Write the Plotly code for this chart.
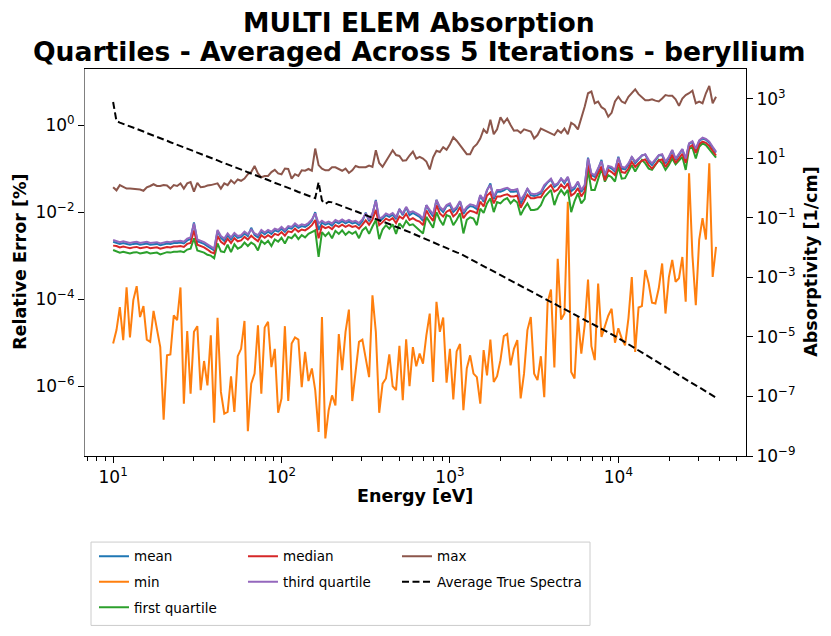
import plotly.graph_objects as go

# ---------------- data ----------------
energy_ev = [
    10.00, 10.47, 10.96, 11.48, 12.02, 12.59, 13.18, 13.80, 14.45, 15.14,
    15.85, 16.60, 17.38, 18.20, 19.05, 19.95, 20.89, 21.88, 22.91, 23.99,
    25.12, 26.30, 27.54, 28.84, 30.20, 31.62, 33.11, 34.67, 36.31, 38.02,
    39.81, 41.69, 43.65, 45.71, 47.86, 50.12, 52.48, 54.95, 57.54, 60.26,
    63.10, 66.07, 69.18, 72.44, 75.86, 79.43, 83.18, 87.10, 91.20, 95.50,
    100.0, 104.7, 109.6, 114.8, 120.2, 125.9, 131.8, 138.0, 144.5, 151.4,
    158.5, 166.0, 173.8, 182.0, 190.5, 199.5, 208.9, 218.8, 229.1, 239.9,
    251.2, 263.0, 275.4, 288.4, 302.0, 316.2, 331.1, 346.7, 363.1, 380.2,
    398.1, 416.9, 436.5, 457.1, 478.6, 501.2, 524.8, 549.5, 575.4, 602.6,
    631.0, 660.7, 691.8, 724.4, 758.6, 794.3, 831.8, 871.0, 912.0, 955.0,
    1000, 1047, 1096, 1148, 1202, 1259, 1318, 1380, 1445, 1514,
    1585, 1660, 1738, 1820, 1905, 1995, 2089, 2188, 2291, 2399,
    2512, 2630, 2754, 2884, 3020, 3162, 3311, 3467, 3631, 3802,
    3981, 4169, 4365, 4571, 4786, 5012, 5248, 5495, 5754, 6026,
    6310, 6607, 6918, 7244, 7586, 7943, 8318, 8710, 9120, 9550,
    10000, 10470, 10960, 11480, 12020, 12590, 13180, 13800, 14450, 15140,
    15850, 16600, 17380, 18200, 19050, 19950, 20890, 21880, 22910, 23990,
    25120, 26300, 27540, 28840, 30200, 31620, 33110, 34670, 36310, 38020,
]

# relative errors [%], given as log10 of the value read on the log axis
log10_mean = [
    -2.68, -2.70, -2.73, -2.71, -2.73, -2.75, -2.73, -2.72, -2.75, -2.73,
    -2.72, -2.75, -2.74, -2.73, -2.76, -2.74, -2.72, -2.73, -2.71, -2.71,
    -2.70, -2.72, -2.65, -2.62, -2.24, -2.67, -2.70, -2.73, -2.78, -2.84,
    -2.88, -2.43, -2.59, -2.66, -2.53, -2.63, -2.52, -2.59, -2.57, -2.49,
    -2.55, -2.36, -2.53, -2.58, -2.45, -2.51, -2.45, -2.50, -2.42, -2.45,
    -2.38, -2.45, -2.36, -2.38, -2.30, -2.36, -2.32, -2.34, -2.29, -2.20,
    -2.00, -2.41, -2.24, -2.29, -2.26, -2.31, -2.22, -2.26, -2.21, -2.26,
    -2.22, -2.26, -2.24, -2.30, -2.21, -2.01, -2.21, -2.05, -1.72, -2.20,
    -2.15, -2.07, -2.11, -2.06, -2.16, -1.93, -2.07, -1.89, -2.07, -2.02,
    -2.07, -2.11, -2.20, -1.84, -1.99, -2.10, -1.72, -1.92, -2.00, -1.86,
    -1.84, -2.00, -1.92, -1.75, -2.04, -1.92, -1.86, -1.88, -1.93, -1.62,
    -1.76, -1.50, -1.34, -1.70, -1.53, -1.53, -1.50, -1.45, -1.53, -1.53,
    -1.51, -1.82, -1.65, -1.46, -1.61, -1.63, -1.61, -1.57, -1.42, -1.32,
    -1.25, -1.42, -1.36, -1.23, -1.34, -1.20, -1.52, -1.46, -1.31, -1.54,
    -1.42, -0.75, -1.15, -1.19, -1.02, -0.80, -1.19, -0.96, -1.00, -1.07,
    -0.73, -1.00, -1.02, -0.92, -0.73, -0.88, -0.79, -0.70, -0.68, -0.84,
    -0.92, -0.80, -0.70, -0.69, -0.88, -0.76, -0.58, -0.80, -0.68, -0.56,
    -0.80, -0.43, -0.39, -0.57, -0.37, -0.31, -0.34, -0.41, -0.52, -0.63,
]

log10_min = [
    -5.02, -4.71, -4.18, -4.94, -3.73, -4.88, -4.02, -3.70, -4.41, -4.16,
    -4.93, -4.98, -4.27, -4.71, -5.10, -6.77, -5.29, -5.27, -4.37, -4.48,
    -3.73, -6.40, -4.73, -6.17, -4.75, -4.62, -6.09, -5.42, -5.98, -4.83,
    -6.84, -4.43, -6.13, -6.63, -6.59, -5.77, -6.59, -5.31, -5.14, -4.50,
    -7.03, -5.94, -5.71, -4.60, -6.17, -4.65, -4.52, -5.56, -5.14, -6.61,
    -6.28, -4.62, -6.34, -5.02, -4.88, -4.93, -6.02, -5.21, -5.88, -5.59,
    -6.09, -7.05, -4.41, -7.20, -6.55, -6.21, -6.44, -4.80, -5.63, -4.75,
    -4.24, -6.34, -5.63, -4.98, -4.93, -5.40, -5.79, -3.91, -4.75, -6.61,
    -5.94, -5.82, -5.27, -6.00, -6.09, -5.07, -6.32, -4.92, -6.00, -5.10,
    -5.54, -5.25, -5.48, -4.83, -4.33, -5.90, -4.06, -4.75, -4.42, -5.92,
    -5.14, -6.30, -5.20, -5.03, -6.55, -5.59, -5.29, -5.71, -5.79, -6.40,
    -5.17, -5.75, -4.93, -5.90, -5.77, -5.40, -4.85, -4.80, -5.52, -5.14,
    -4.94, -6.28, -5.71, -4.71, -4.41, -5.71, -5.86, -5.31, -6.25, -4.07,
    -3.78, -5.57, -3.07, -4.47, -4.33, -1.76, -5.67, -5.82, -4.41, -5.25,
    -4.60, -3.55, -5.08, -5.40, -3.64, -4.87, -4.64, -4.38, -4.22, -5.00,
    -4.67, -4.90, -5.06, -4.44, -3.49, -5.21, -4.19, -4.16, -3.33, -3.64,
    -4.08, -4.10, -3.75, -3.18, -4.33, -3.50, -3.10, -3.60, -3.52, -3.03,
    -4.06, -1.11, -3.00, -4.14, -2.64, -2.14, -2.63, -0.88, -3.49, -2.80,
]

log10_first_quartile = [
    -2.87, -2.90, -2.93, -2.91, -2.93, -2.95, -2.93, -2.92, -2.95, -2.93,
    -2.92, -2.95, -2.94, -2.93, -2.97, -2.94, -2.92, -2.93, -2.91, -2.91,
    -2.90, -2.92, -2.86, -2.84, -2.60, -2.88, -2.90, -2.93, -2.98, -3.00,
    -3.06, -2.72, -2.90, -2.92, -2.75, -2.92, -2.74, -2.84, -2.80, -2.70,
    -2.78, -2.70, -2.75, -2.88, -2.66, -2.73, -2.66, -2.78, -2.63, -2.68,
    -2.59, -2.72, -2.57, -2.60, -2.51, -2.62, -2.53, -2.58, -2.50, -2.45,
    -2.42, -3.03, -2.46, -2.55, -2.47, -2.60, -2.43, -2.50, -2.42, -2.52,
    -2.45, -2.50, -2.45, -2.60, -2.42, -2.35, -2.50, -2.33, -2.18, -2.62,
    -2.40, -2.30, -2.38, -2.28, -2.50, -2.26, -2.35, -2.20, -2.30, -2.28,
    -2.35, -2.40, -2.49, -2.11, -2.25, -2.36, -2.00, -2.18, -2.30, -2.07,
    -2.10, -2.30, -2.18, -2.03, -2.49, -2.18, -2.12, -2.15, -2.30, -1.92,
    -2.02, -1.80, -1.68, -2.00, -1.77, -1.80, -1.72, -1.68, -1.80, -1.72,
    -1.78, -2.07, -1.92, -1.80, -1.95, -1.95, -1.93, -1.84, -1.66, -1.58,
    -1.49, -1.84, -1.62, -1.49, -1.60, -1.49, -2.00, -1.75, -1.57, -1.80,
    -1.70, -1.03, -1.49, -1.49, -1.25, -1.00, -1.30, -1.15, -1.20, -1.30,
    -0.96, -1.23, -1.22, -1.07, -0.92, -1.07, -0.95, -0.80, -0.88, -1.00,
    -1.03, -0.92, -0.80, -0.88, -1.03, -0.92, -0.77, -0.90, -0.82, -0.73,
    -1.03, -0.54, -0.52, -0.77, -0.50, -0.42, -0.46, -0.55, -0.66, -0.75,
]

log10_median = [
    -2.77, -2.78, -2.81, -2.79, -2.81, -2.83, -2.81, -2.80, -2.83, -2.81,
    -2.80, -2.83, -2.82, -2.81, -2.84, -2.82, -2.80, -2.81, -2.79, -2.79,
    -2.78, -2.80, -2.73, -2.71, -2.42, -2.75, -2.78, -2.81, -2.86, -2.92,
    -2.95, -2.55, -2.68, -2.74, -2.61, -2.71, -2.60, -2.67, -2.65, -2.57,
    -2.63, -2.54, -2.61, -2.67, -2.53, -2.59, -2.53, -2.58, -2.50, -2.53,
    -2.46, -2.54, -2.44, -2.46, -2.38, -2.45, -2.40, -2.42, -2.37, -2.30,
    -2.18, -2.60, -2.32, -2.37, -2.34, -2.39, -2.30, -2.34, -2.29, -2.34,
    -2.30, -2.34, -2.32, -2.38, -2.29, -2.19, -2.29, -2.17, -1.95, -2.30,
    -2.23, -2.15, -2.19, -2.14, -2.25, -2.10, -2.15, -2.04, -2.18, -2.14,
    -2.19, -2.22, -2.30, -1.96, -2.10, -2.20, -1.84, -2.03, -2.10, -1.99,
    -1.95, -2.10, -2.03, -1.88, -2.14, -2.03, -1.97, -1.99, -2.03, -1.76,
    -1.87, -1.62, -1.55, -1.80, -1.64, -1.64, -1.61, -1.59, -1.64, -1.64,
    -1.62, -1.90, -1.76, -1.60, -1.68, -1.68, -1.66, -1.66, -1.53, -1.45,
    -1.38, -1.53, -1.48, -1.37, -1.45, -1.34, -1.62, -1.57, -1.45, -1.64,
    -1.52, -0.88, -1.23, -1.27, -1.12, -0.95, -1.27, -1.03, -1.08, -1.15,
    -0.87, -1.08, -1.10, -1.00, -0.85, -0.96, -0.88, -0.82, -0.79, -0.92,
    -1.00, -0.89, -0.81, -0.79, -0.96, -0.85, -0.68, -0.87, -0.75, -0.66,
    -0.87, -0.51, -0.46, -0.64, -0.44, -0.38, -0.41, -0.48, -0.59, -0.70,
]

log10_third_quartile = [
    -2.64, -2.66, -2.69, -2.67, -2.69, -2.71, -2.69, -2.68, -2.71, -2.69,
    -2.68, -2.71, -2.70, -2.69, -2.72, -2.70, -2.68, -2.69, -2.67, -2.67,
    -2.66, -2.68, -2.61, -2.58, -2.26, -2.63, -2.66, -2.69, -2.74, -2.80,
    -2.84, -2.41, -2.55, -2.61, -2.49, -2.58, -2.48, -2.55, -2.53, -2.45,
    -2.51, -2.40, -2.49, -2.53, -2.41, -2.47, -2.41, -2.45, -2.38, -2.41,
    -2.34, -2.41, -2.32, -2.34, -2.26, -2.32, -2.28, -2.30, -2.25, -2.17,
    -2.03, -2.26, -2.20, -2.25, -2.22, -2.26, -2.18, -2.22, -2.17, -2.22,
    -2.18, -2.22, -2.20, -2.25, -2.17, -2.03, -2.17, -2.03, -1.74, -2.15,
    -2.11, -2.03, -2.07, -2.02, -2.11, -1.94, -2.03, -1.88, -2.01, -1.98,
    -2.03, -2.07, -2.15, -1.84, -1.95, -2.05, -1.72, -1.88, -1.95, -1.84,
    -1.80, -1.95, -1.88, -1.75, -1.99, -1.88, -1.82, -1.84, -1.88, -1.61,
    -1.72, -1.49, -1.38, -1.65, -1.49, -1.49, -1.46, -1.44, -1.49, -1.49,
    -1.47, -1.72, -1.61, -1.46, -1.57, -1.59, -1.57, -1.53, -1.38, -1.30,
    -1.23, -1.38, -1.34, -1.23, -1.30, -1.19, -1.46, -1.42, -1.30, -1.49,
    -1.38, -0.77, -1.11, -1.15, -1.00, -0.83, -1.15, -0.94, -0.96, -1.03,
    -0.75, -0.96, -0.98, -0.88, -0.73, -0.84, -0.77, -0.70, -0.67, -0.80,
    -0.88, -0.77, -0.69, -0.67, -0.84, -0.73, -0.57, -0.77, -0.65, -0.55,
    -0.77, -0.42, -0.37, -0.54, -0.35, -0.29, -0.32, -0.38, -0.50, -0.61,
]

log10_max = [
    -1.43, -1.50, -1.38, -1.42, -1.46, -1.46, -1.47, -1.48, -1.48, -1.51,
    -1.43, -1.40, -1.36, -1.40, -1.40, -1.38, -1.39, -1.46, -1.38, -1.40,
    -1.34, -1.46, -1.34, -1.31, -1.53, -1.33, -1.43, -1.42, -1.39, -1.38,
    -1.36, -1.34, -1.46, -1.34, -1.38, -1.27, -1.34, -1.25, -1.28, -1.23,
    -1.13, -1.08, -0.94, -1.11, -1.20, -1.17, -1.17, -1.08, -1.03, -1.11,
    -1.13, -1.00, -1.01, -1.23, -1.13, -1.17, -1.04, -1.05, -1.01, -1.05,
    -0.54, -0.92, -1.00, -1.04, -1.04, -0.97, -0.97, -1.02, -1.05, -1.00,
    -1.10, -1.04, -0.94, -0.97, -0.97, -0.97, -0.93, -0.96, -0.58, -0.87,
    -0.96, -0.84, -0.69, -0.58, -0.69, -0.71, -0.82, -0.81, -0.70, -0.61,
    -0.77, -0.73, -0.77, -0.84, -1.02, -0.74, -0.59, -0.62, -0.51, -0.57,
    -0.44, -0.28, -0.36, -0.46, -0.58, -0.67, -0.67, -0.51, -0.44, -0.31,
    -0.10, -0.19, 0.12, -0.21, -0.10, 0.18, 0.05, 0.15, 0.00, -0.13,
    -0.12, -0.18, -0.10, -0.12, -0.15, -0.31, -0.23, -0.08, -0.12, -0.15,
    -0.19, -0.23, -0.12, -0.18, -0.08, -0.21, 0.05, 0.00, -0.10, 0.15,
    0.42, 0.73, 0.77, 0.50, 0.54, 0.41, 0.36, 0.19, 0.28, 0.54,
    0.65, 0.54, 0.50, 0.65, 0.73, 0.82, 0.71, 0.65, 0.57, 0.57,
    0.59, 0.56, 0.54, 0.61, 0.69, 0.67, 0.67, 0.59, 0.44, 0.61,
    0.69, 0.73, 0.79, 0.50, 0.54, 0.50, 0.73, 0.90, 0.50, 0.65,
]

# average true spectra [1/cm], log10 of the value read on the right axis
log10_true_spectra = [
    2.89, 2.25, 2.20, 2.16, 2.12, 2.07, 2.03, 1.98, 1.94, 1.90,
    1.85, 1.81, 1.76, 1.72, 1.68, 1.63, 1.59, 1.54, 1.50, 1.46,
    1.41, 1.37, 1.32, 1.28, 1.24, 1.19, 1.15, 1.10, 1.06, 1.02,
    0.97, 0.93, 0.88, 0.84, 0.80, 0.75, 0.71, 0.66, 0.62, 0.58,
    0.53, 0.49, 0.44, 0.40, 0.36, 0.31, 0.27, 0.22, 0.18, 0.14,
    0.09, 0.05, 0.00, -0.04, -0.08, -0.13, -0.17, -0.22, -0.26, -0.30,
    -0.34, 0.20, -0.42, -0.53, -0.46, -0.48, -0.52, -0.56, -0.61, -0.65,
    -0.69, -0.74, -0.78, -0.82, -0.87, -0.91, -0.95, -1.00, -1.04, -1.08,
    -1.13, -1.17, -1.21, -1.25, -1.30, -1.34, -1.39, -1.43, -1.48, -1.53,
    -1.58, -1.62, -1.67, -1.72, -1.77, -1.82, -1.87, -1.91, -1.96, -2.01,
    -2.06, -2.11, -2.16, -2.20, -2.26, -2.32, -2.38, -2.44, -2.50, -2.56,
    -2.62, -2.68, -2.74, -2.80, -2.86, -2.92, -2.98, -3.03, -3.09, -3.15,
    -3.21, -3.27, -3.33, -3.39, -3.45, -3.51, -3.57, -3.63, -3.69, -3.75,
    -3.81, -3.87, -3.93, -3.99, -4.05, -4.11, -4.17, -4.23, -4.29, -4.35,
    -4.41, -4.47, -4.53, -4.59, -4.65, -4.71, -4.77, -4.84, -4.90, -4.97,
    -5.04, -5.11, -5.18, -5.24, -5.31, -5.38, -5.45, -5.52, -5.59, -5.66,
    -5.72, -5.79, -5.86, -5.93, -6.00, -6.07, -6.14, -6.21, -6.28, -6.35,
    -6.42, -6.49, -6.56, -6.63, -6.69, -6.76, -6.83, -6.90, -6.97, -7.04,
]

x_tick_vals = [10, 100, 1000, 10000]
x_tick_text = ["10<sup>1</sup>", "10<sup>2</sup>", "10<sup>3</sup>", "10<sup>4</sup>"]
x_minor_vals = [7, 8, 9, 20, 30, 40, 50, 60, 70, 80, 90,
                200, 300, 400, 500, 600, 700, 800, 900,
                2000, 3000, 4000, 5000, 6000, 7000, 8000, 9000,
                20000, 30000, 40000, 50000]
y_tick_vals = [1e-6, 1e-4, 1e-2, 1]
y_tick_text = ["10<sup>\u22126</sup>", "10<sup>\u22124</sup>", "10<sup>\u22122</sup>", "10<sup>0</sup>"]
y2_tick_vals = [1e-9, 1e-7, 1e-5, 1e-3, 1e-1, 10, 1000]
y2_tick_text = ["10<sup>\u22129</sup>", "10<sup>\u22127</sup>", "10<sup>\u22125</sup>",
                "10<sup>\u22123</sup>", "10<sup>\u22121</sup>", "10<sup>1</sup>", "10<sup>3</sup>"]

# ---------------- figure ----------------
FONT = "DejaVu Sans"


def to_values(logs):
    return [10 ** v for v in logs]


series = [
    ("mean", log10_mean, "#1f77b4", "legend"),
    ("min", log10_min, "#ff7f0e", "legend"),
    ("first quartile", log10_first_quartile, "#2ca02c", "legend"),
    ("median", log10_median, "#d62728", "legend2"),
    ("third quartile", log10_third_quartile, "#9467bd", "legend2"),
    ("max", log10_max, "#8c564b", "legend3"),
]

fig = go.Figure()
for name, logs, color, leg in series:
    fig.add_trace(go.Scatter(
        x=energy_ev, y=to_values(logs), mode="lines", name=name,
        line=dict(color=color, width=2), legend=leg, legendgroup=name,
    ))

fig.add_trace(go.Scatter(
    x=energy_ev, y=to_values(log10_true_spectra), mode="lines",
    name="Average True Spectra", yaxis="y2",
    line=dict(color="black", width=2, dash="7px,3.5px"),
    legend="legend3", legendgroup="truth",
))

tick_font = dict(family=FONT, size=17, color="black")
leg_common = dict(font=dict(family=FONT, size=13.5, color="black"),
                  bgcolor="rgba(0,0,0,0)", borderwidth=0, orientation="v",
                  yanchor="top", xanchor="left", y=-0.2193, tracegroupgap=5)

fig.update_layout(
    width=831, height=636,
    margin=dict(l=85, r=85, t=69, b=180, pad=0, autoexpand=False),
    paper_bgcolor="white", plot_bgcolor="white",
    font=dict(family=FONT, color="black"),
    showlegend=True,
    legend=dict(x=0.0136, **leg_common),
    legend2=dict(x=0.2390, **leg_common),
    legend3=dict(x=0.4720, **leg_common),
    xaxis=dict(
        type="log", range=[0.833, 4.758],
        showline=True, linecolor="black", linewidth=1, mirror=True,
        ticks="outside", ticklen=6, tickwidth=1, tickcolor="black",
        tickvals=x_tick_vals, ticktext=x_tick_text, tickfont=tick_font,
        showgrid=False, zeroline=False,
        minor=dict(tickvals=x_minor_vals, ticks="outside", ticklen=3.5,
                   tickwidth=1, tickcolor="black", showgrid=False),
    ),
    yaxis=dict(
        type="log", range=[-7.602, 1.287],
        showline=True, linecolor="#808080", linewidth=1,
        ticks="outside", ticklen=6, tickwidth=1, tickcolor="black",
        tickvals=y_tick_vals, ticktext=y_tick_text, tickfont=tick_font,
        showgrid=False, zeroline=False,
    ),
    yaxis2=dict(
        type="log", range=[-9, 4], overlaying="y", side="right",
        showline=True, linecolor="black", linewidth=1,
        ticks="outside", ticklen=6, tickwidth=1, tickcolor="black",
        tickvals=y2_tick_vals, ticktext=y2_tick_text, tickfont=tick_font,
        showgrid=False, zeroline=False,
    ),
    shapes=[dict(type="rect", xref="paper", yref="paper",
                 x0=0.00908, x1=0.764, y0=-0.4378, y1=-0.2224,
                 line=dict(color="#cccccc", width=1), fillcolor="rgba(0,0,0,0)",
                 layer="below")],
    annotations=[
        dict(text="<b>MULTI ELEM Absorption</b>", xref="paper", yref="paper",
             x=0.506, y=1.119, xanchor="center", yanchor="middle", showarrow=False,
             font=dict(family=FONT, size=26.6, color="black")),
        dict(text="<b>Quartiles - Averaged Across 5 Iterations - beryllium</b>",
             xref="paper", yref="paper", x=0.506, y=1.0465, xanchor="center",
             yanchor="middle", showarrow=False,
             font=dict(family=FONT, size=26.6, color="black")),
        dict(text="<b>Energy [eV]</b>", xref="paper", yref="paper",
             x=0.4992, y=-0.1042, xanchor="center", yanchor="middle", showarrow=False,
             font=dict(family=FONT, size=17.5, color="black")),
        dict(text="<b>Relative Error [%]</b>", xref="paper", yref="paper",
             x=-0.0983, y=0.5017, xanchor="center", yanchor="middle", showarrow=False,
             textangle=-90, font=dict(family=FONT, size=17.5, color="black")),
        dict(text="<b>Absorptivity [1/cm]</b>", xref="paper", yref="paper",
             x=1.0983, y=0.5017, xanchor="center", yanchor="middle", showarrow=False,
             textangle=-90, font=dict(family=FONT, size=17.5, color="black")),
    ],
)

fig.write_html("out.html", config={"displayModeBar": False},
               post_script="document.body.style.margin = '0px';")
